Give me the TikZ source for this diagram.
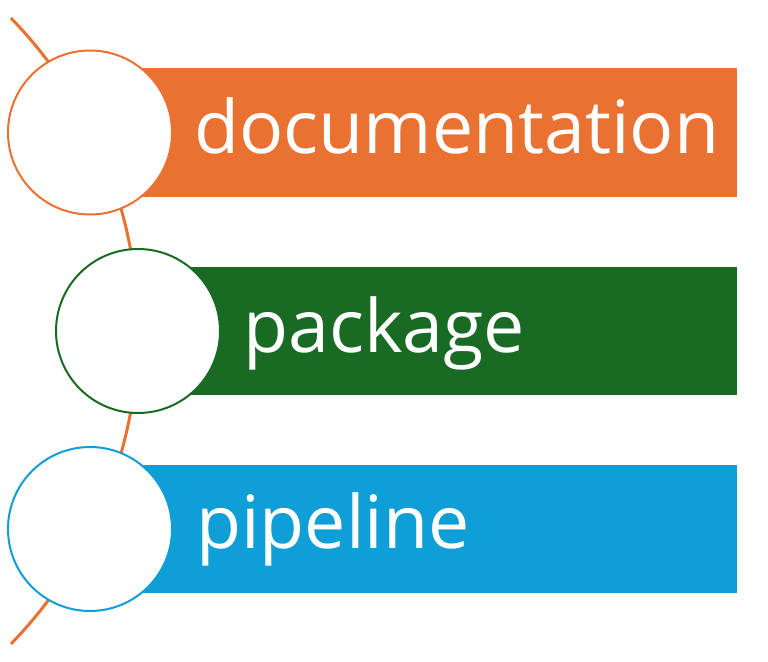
\documentclass[tikz,border=0pt]{standalone}
\usepackage{fontspec}
\setmainfont{Open Sans}
\usepackage{xcolor}
\usepackage{tikz}
\usetikzlibrary{positioning}

\definecolor{docorange}{HTML}{E97132}
\definecolor{pkggreen}{HTML}{196B24}
\definecolor{pipeblue}{HTML}{0F9ED5}

\begin{document}
\begin{tikzpicture}[
    x=1pt, y=1pt,
    disc/.style={circle, draw, fill=white, line width=2pt, minimum size=164pt, inner sep=0},
    bar/.style={rectangle, minimum height=128pt, inner sep=0, anchor=west},
    bartext/.style={text=white, inner sep=0, anchor=base west, font=\fontsize{73.5}{80}\selectfont},
    spine/.style={draw=docorange, line width=3pt}
]
    \useasboundingbox (0,0) rectangle (768,-661);

    % Spine arc behind the circles
    \draw[spine] (-311,-331) ++(44.2:449) arc[start angle=44.2, end angle=-44.2, radius=449];

    % Circles
    \coordinate (docc) at (90,-132.5);
    \coordinate (pkgc) at (138,-331);
    \coordinate (pipec) at (90,-529);

    % Bars
    \node[bar, fill=docorange, minimum width=647pt] (docbar) at (docc) {};
    \node[bar, fill=pkggreen, minimum width=599pt] (pkgbar) at (pkgc) {};
    \node[bar, fill=pipeblue, minimum width=647pt] (pipebar) at (pipec) {};

    \node[disc, draw=docorange] (doccircle) at (docc) {};
    \node[disc, draw=pkggreen] (pkgcircle) at (pkgc) {};
    \node[disc, draw=pipeblue] (pipecircle) at (pipec) {};

    % Texts
    \node[bartext] (doctext) at ([xshift=104pt, yshift=-21pt]doccircle.center) {documentation};
    \node[bartext] (pkgtext) at ([xshift=105pt, yshift=-21pt]pkgcircle.center) {package};
    \node[bartext] (pipetext) at ([xshift=106pt, yshift=-19pt]pipecircle.center) {pipeline};

\end{tikzpicture}
\end{document}
